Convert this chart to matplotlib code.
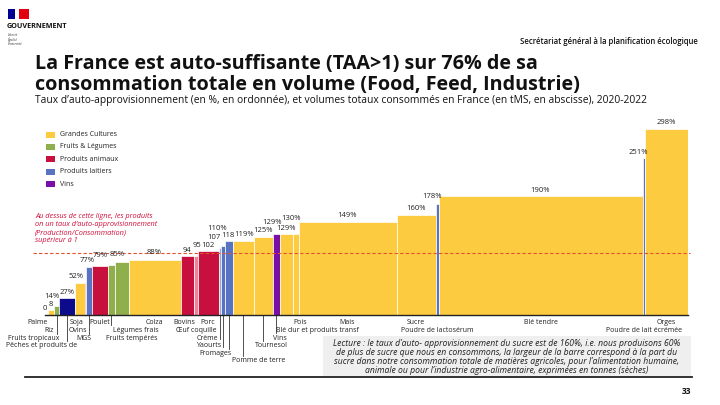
import matplotlib
matplotlib.use('Agg')
import matplotlib.pyplot as plt
import numpy as np
from matplotlib.patches import Rectangle
from matplotlib.transforms import blended_transform_factory

# ---------------- data ----------------
categories = ['Palme', 'Riz', 'Fruits tropicaux', 'Pêches et produits de', 'Soja', 'Ovins', 'MGS',
              'Poulet', 'Légumes frais', 'Fruits tempérés', 'Colza', 'Bovins', 'Œuf coquille', 'Porc',
              'Crème', 'Yaourts', 'Fromages', 'Pomme de terre', 'Tournesol', 'Vins',
              'Blé dur et produits transf', 'Pois', 'Mais', 'Sucre', 'Poudre de lactosérum',
              'Blé tendre', 'Poudre de lait écrémée', 'Orges']
taa = [0, 8, 14, 27, 52, 52, 77, 79, 80, 85, 88, 94, 95, 102, 107, 110, 118, 119, 125, 129,
       129, 130, 149, 160, 178, 190, 251, 298]
volumes = [0.30, 0.60, 0.50, 1.60, 0.95, 0.15, 0.60, 1.55, 0.70, 1.40, 5.20, 1.35, 0.35, 2.10,
           0.25, 0.35, 0.80, 2.15, 1.85, 0.70, 1.35, 0.55, 9.80, 3.90, 0.30, 20.40, 0.20, 4.35]
groups = ['GC', 'GC', 'FL', 'PE', 'GC', 'PA', 'PL', 'PA', 'FL', 'FL', 'GC', 'PA', 'OE', 'PA',
          'CR', 'PL', 'PL', 'GC', 'GC', 'VI', 'GC', 'GC', 'GC', 'GC', 'PL', 'GC', 'PL', 'GC']
value_labels = ['0', '8', '14%', '27%', '52%', '', '77%', '79%', '', '85%', '88%', '94', '95', '102',
                '107', '110%', '118', '119%', '125%', '129%', '129%', '130%', '149%', '160%', '178%',
                '190%', '251%', '298%']
legend_names = ['Grandes Cultures', 'Fruits & Légumes', 'Produits animaux', 'Produits laitiers', 'Vins']
legend_keys = ['GC', 'FL', 'PA', 'PL', 'VI']

# ---------------- style ----------------
group_colors = {'GC': '#FDCB40', 'FL': '#8FAE4C', 'PA': '#C8103E', 'PL': '#5873C2',
                'VI': '#7A0FA8', 'PE': '#0B0B8C', 'OE': '#EE8299', 'CR': '#93A6DC'}
# category label layout: row, dx(px), ha, leader end row (0 = none)
cat_row = [1, 2, 3, 4, 1, 2, 3, 1, 2, 3, 1, 1, 2, 1, 3, 4, 5, 6, 4, 3, 2, 1, 1, 1, 2, 1, 2, 1]
cat_dx = [-9, -2, -23, -25, -3, -7, -5, 0, 2, 10, 0, -3, 0, 0, -1.5, -2, -13, 15, 8, 4, 31, 4,
          0, 0, 0, 0, 0, 0]
cat_ha = ['center'] * len(categories)
cat_ha[8] = 'left'
cat_ha[14] = 'right'
cat_ha[15] = 'right'
leader_to = [0, 0, 2.4, 3.4, 0, 0, 2.4, 0, 1.3, 0, 0, 0, 0, 0, 3.1, 4.2, 4.4, 5.4, 3.4, 2.3,
             0, 0, 0, 0, 0, 0, 0, 0]
val_dx = [-1.5, 0, -5, 0, -3.5, 0, -2, 0, 0, -4, 0, 0, 1, 0, -6, -5.5, -1, 1, 0, -4, 0, -4.5,
          0, 0, -5, 0, -5.5, 0]
val_dy = [0, 0, 4, 0, 0, 0, 0, 4, 0, 1, 1, 0, 4, 0, 5, 12, 0, 0, 0, 6, 0, 9, 0, 0, 1, 0, 0, 0]

W, H, DPI = 720, 405, 100
PX2PT = 72 / DPI
plt.rcParams['font.family'] = ['Open Sans', 'DejaVu Sans']

fig = plt.figure(figsize=(W / DPI, H / DPI), dpi=DPI)
fig.patch.set_facecolor('white')


def fx(x):
    return x / W


def fy(y):
    return 1 - y / H


renderer = fig.canvas.get_renderer()


def fit_text(x, y, s, width_px, **kw):
    t = fig.text(fx(x), fy(y), s, **kw)
    bb = t.get_window_extent(renderer=renderer)
    t.set_fontsize(t.get_fontsize() * width_px / bb.width)
    return t


# ---------------- header ----------------
fig.patches.append(Rectangle((fx(8), fy(19)), 7 / W, 10 / H, transform=fig.transFigure,
                             facecolor='#000091', edgecolor='none'))
fig.patches.append(Rectangle((fx(19), fy(19)), 10 / W, 10 / H, transform=fig.transFigure,
                             facecolor='#E1000F', edgecolor='none'))
fig.text(fx(7), fy(27), 'GOUVERNEMENT', fontsize=5.2, fontweight='bold', va='center', color='#111')
for k, w in enumerate(['Liberté', 'Égalité', 'Fraternité']):
    fig.text(fx(8), fy(35 + 4.5 * k), w, fontsize=2.4, style='italic', va='center', color='#333')
fit_text(698, 42, 'Secrétariat général à la planification écologique', 177,
         fontsize=6, fontweight='semibold', ha='right', va='center', color='#111')

t1 = fit_text(35, 64, 'La France est auto-suffisante (TAA>1) sur 76% de sa', 505,
              fontsize=14, fontweight='bold', va='center', color='#111')
fig.text(fx(35), fy(85), 'consommation totale en volume (Food, Feed, Industrie)',
         fontsize=t1.get_fontsize(), fontweight='bold', va='center', color='#111')
fit_text(35, 100, 'Taux d’auto-approvisionnement (en %, en ordonnée), et volumes totaux consommés '
         'en France (en tMS, en abscisse), 2020-2022', 615, fontsize=7, va='center', color='#111')

# ---------------- legend ----------------
for k, (name, key) in enumerate(zip(legend_names, legend_keys)):
    yc = 134.5 + 12.4 * k
    fig.patches.append(Rectangle((fx(46), fy(yc + 3)), 9 / W, 6 / H, transform=fig.transFigure,
                                 facecolor=group_colors[key], edgecolor='none'))
    fig.text(fx(60), fy(yc), name, fontsize=5.0, va='center', color='#222')

# ---------------- red note ----------------
for k, line in enumerate(['Au dessus de cette ligne, les produits',
                          'on un taux d’auto-approvisionnement',
                          '(Production/Consommation)',
                          'supérieur à 1']):
    fig.text(fx(35), fy(217 + 7.8 * k), line, fontsize=5.3, style='italic', va='center',
             color='#D1103B')

# ---------------- chart ----------------
x0_px, x1_px, base_px = 45, 688, 315
ppu = 0.625
ymax = 300
ax = fig.add_axes([fx(x0_px), fy(base_px), (x1_px - x0_px) / W, ppu * ymax / H])
total = sum(volumes)
ax.set_xlim(0, total)
ax.set_ylim(0, ymax)
for s in ['top', 'right', 'left']:
    ax.spines[s].set_visible(False)
ax.spines['bottom'].set_color('#222')
ax.spines['bottom'].set_linewidth(1.0)
ax.set_xticks([])
ax.set_yticks([])
ax.patch.set_alpha(0)

lefts = np.concatenate([[0], np.cumsum(volumes)[:-1]])
centers = lefts + np.array(volumes) / 2
colors = [group_colors[g] for g in groups]
ax.bar(lefts, taa, width=volumes, align='edge', color=colors, edgecolor='white', linewidth=0.5)

# 100% dashed line
tr = blended_transform_factory(ax.transAxes, ax.transData)
ax.plot([(33 - x0_px) / (x1_px - x0_px), (690 - x0_px) / (x1_px - x0_px)], [100, 100],
        transform=tr, color='#E2532E', lw=0.8, dashes=(3, 2), clip_on=False, zorder=3)

# value labels
for i, s in enumerate(value_labels):
    if not s:
        continue
    ax.annotate(s, xy=(centers[i], taa[i]), xytext=(val_dx[i] * PX2PT, (6 + val_dy[i]) * PX2PT),
                textcoords='offset points', ha='center', va='center', fontsize=5.5, color='#222',
                annotation_clip=False)

# category labels
for i, name in enumerate(categories):
    ypx = 8 + 7.6 * (cat_row[i] - 1)
    ax.annotate(name, xy=(centers[i], 0), xytext=(cat_dx[i] * PX2PT, -ypx * PX2PT),
                textcoords='offset points', ha=cat_ha[i], va='center', fontsize=5.0,
                color='#222', annotation_clip=False)
    if leader_to[i]:
        yend = 8 + 7.6 * (leader_to[i] - 1)
        ax.plot([centers[i], centers[i]], [0, -yend / ppu], color='#333', lw=0.6,
                clip_on=False)

# ---------------- lecture box ----------------
fig.patches.append(Rectangle((fx(323), fy(376)), (691 - 323) / W, 40 / H,
                             transform=fig.transFigure, facecolor='#EFEFEF', edgecolor='none',
                             zorder=0))
lec = ['Lecture : le taux d’auto- approvisionnement du sucre est de 160%, i.e. nous produisons 60%',
       'de plus de sucre que nous en consommons, la largeur de la barre correspond à la part du',
       'sucre dans notre consommation totale de matières agricoles, pour l’alimentation humaine,',
       'animale ou pour l’industrie agro-alimentaire, exprimées en tonnes (sèches)']
tl = fit_text(507, 343, lec[0], 343, fontsize=5.5, style='italic', ha='center', va='center',
              color='#222')
for k in range(1, 4):
    fig.text(fx(507), fy(343 + 9.2 * k), lec[k], fontsize=tl.get_fontsize(), style='italic',
             ha='center', va='center', color='#222')

fig.add_artist(plt.Line2D([fx(25), fx(692)], [fy(376.5), fy(376.5)], transform=fig.transFigure,
                          color='#222', lw=1.3))
fig.text(fx(691), fy(391), '33', fontsize=6, fontweight='bold', ha='right', va='center',
         color='#111')

fig.savefig('out.png', dpi=DPI, facecolor='white')
